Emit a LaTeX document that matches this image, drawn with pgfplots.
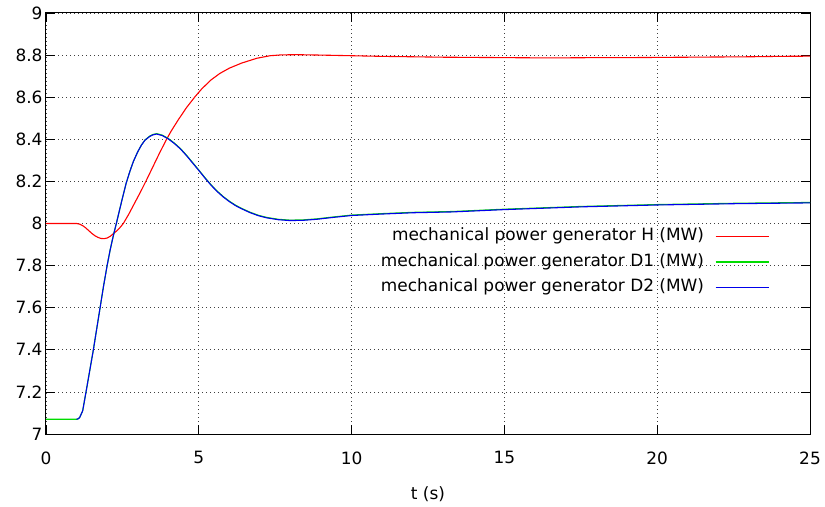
\documentclass[border=0pt]{standalone}
\usepackage{fontspec}
\setmainfont{DejaVu Sans}
\usepackage{pgfplots}
\pgfplotsset{compat=1.18}
\usetikzlibrary{calc}
\definecolor{gpred}{RGB}{255,0,0}
\definecolor{gpgreen}{RGB}{0,220,0}
\definecolor{gpblue}{RGB}{0,0,235}
\newcommand{\gpfont}{\fontsize{17}{20}\selectfont}

\begin{document}
\begin{tikzpicture}
\begin{axis}[
    scale only axis,
    width=764bp, height=421bp,
    xmin=0, xmax=25, ymin=7, ymax=9,
    xtick={0,5,10,15,20,25},
    ytick={7,7.2,7.4,7.6,7.8,8,8.2,8.4,8.6,8.8,9},
    tick align=inside,
    major tick length=9bp,
    tick style={black, line width=0.8bp},
    grid=major,
    major grid style={black!75, line width=0.8bp, dash pattern=on 1bp off 3bp},
    axis line style={black, line width=1bp},
    tick label style={font=\gpfont},
    xticklabel style={yshift=-14bp},
    /pgf/number format/assume math mode=true,
    xlabel={t (s)},
    xlabel style={font=\gpfont, at={(rel axis cs:0.5,0)}, anchor=base, yshift=-65bp},
    legend plot pos=right,
    legend cell align=right,
    legend image code/.code={\draw[#1, line width=1.3bp] (0bp,0bp) -- (53bp,0bp);},
    legend style={draw=none, fill=none, at={(rel axis cs:0.947,0.49)}, anchor=north east,
        inner sep=0pt, row sep=8.5bp, column sep=11bp,
        nodes={inner sep=0pt, text height=13bp, text depth=4bp, font=\gpfont}},
]
% generator H
\addplot[gpred, line width=1.1bp] coordinates {
(0,8.0) (0.5,8.0) (1.0,8.0) (1.1,7.997) (1.2,7.99) (1.3,7.979) (1.4,7.966)
(1.5,7.953) (1.6,7.942) (1.7,7.934) (1.8,7.929) (1.9,7.928) (2.0,7.931)
(2.1,7.939) (2.2,7.951) (2.3,7.963) (2.4,7.977) (2.53,8.0) (2.7,8.042)
(2.9,8.097) (3.1,8.152) (3.3,8.21) (3.5,8.27) (3.7,8.33) (3.93,8.396)
(4.1,8.44) (4.33,8.493) (4.6,8.551) (4.88,8.603) (5.1,8.64) (5.4,8.682)
(5.69,8.713) (6.0,8.738) (6.4,8.762) (6.9,8.785) (7.33,8.797) (7.7,8.801)
(8.2,8.802) (9,8.8) (10,8.797) (11,8.794) (12,8.792) (13,8.79) (14,8.789)
(15,8.788) (16,8.787) (17,8.787) (18,8.788) (19,8.788) (20,8.789) (21,8.79)
(22,8.791) (23,8.792) (24,8.794) (25,8.795)
};
\addlegendentry{mechanical power generator H (MW)}
% generator D1
\addplot[gpgreen, line width=1.1bp] coordinates {
(0,7.07) (1.0,7.07) (1.05,7.072) (1.1,7.078) (1.2,7.11) (1.31,7.2) (1.43,7.3)
(1.55,7.4) (1.66,7.5) (1.77,7.6) (1.88,7.7) (2.0,7.8) (2.1,7.875) (2.2,7.94)
(2.31,8.005) (2.4,8.06) (2.5,8.12) (2.62,8.19) (2.75,8.25) (2.86,8.295)
(3.0,8.34) (3.12,8.372) (3.24,8.397) (3.4,8.416) (3.5,8.423) (3.62,8.427)
(3.8,8.42) (4.0,8.404) (4.2,8.382) (4.4,8.356) (4.6,8.324) (4.8,8.289)
(5.0,8.254) (5.2,8.218) (5.4,8.184) (5.6,8.154) (5.8,8.128) (6.0,8.106)
(6.2,8.087) (6.4,8.072) (6.67,8.054) (6.95,8.039) (7.22,8.029) (7.6,8.02)
(7.98,8.016) (8.4,8.017) (8.86,8.022) (9.4,8.031) (10,8.04) (11,8.047)
(12,8.053) (13.3,8.057) (15,8.068) (17.5,8.081) (20,8.09) (22.5,8.096) (25,8.1)
};
\addlegendentry{mechanical power generator D1 (MW)}
% generator D2
\addplot[gpblue, line width=1.1bp] coordinates {
(1.0,7.07) (1.05,7.072) (1.1,7.078) (1.2,7.11) (1.31,7.2) (1.43,7.3)
(1.55,7.4) (1.66,7.5) (1.77,7.6) (1.88,7.7) (2.0,7.8) (2.1,7.875) (2.2,7.94)
(2.31,8.005) (2.4,8.06) (2.5,8.12) (2.62,8.19) (2.75,8.25) (2.86,8.295)
(3.0,8.34) (3.12,8.372) (3.24,8.396) (3.4,8.414) (3.5,8.421) (3.62,8.425)
(3.8,8.418) (4.0,8.402) (4.2,8.38) (4.4,8.354) (4.6,8.322) (4.8,8.287)
(5.0,8.252) (5.2,8.216) (5.4,8.182) (5.6,8.152) (5.8,8.126) (6.0,8.104)
(6.2,8.085) (6.4,8.07) (6.67,8.052) (6.95,8.037) (7.22,8.027) (7.6,8.018)
(7.98,8.014) (8.4,8.015) (8.86,8.02) (9.4,8.029) (10,8.038) (11,8.045)
(12,8.051) (13.3,8.055) (15,8.066) (17.5,8.079) (20,8.088) (22.5,8.094) (25,8.098)
};
\addlegendentry{mechanical power generator D2 (MW)}
\end{axis}
\pgfresetboundingbox
\path ($(current axis.south west)+(-46bp,-73bp)$) rectangle ($(current axis.north east)+(15bp,13bp)$);
\end{tikzpicture}
\end{document}
